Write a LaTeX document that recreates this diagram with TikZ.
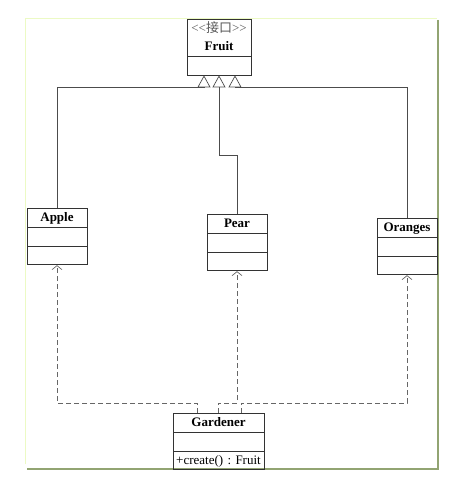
\documentclass[tikz,border=0pt]{standalone}
\usepackage{fontspec}
\setmainfont{Liberation Serif}
\newfontfamily\cjk{Noto Sans CJK SC}
\usetikzlibrary{shapes.multipart,arrows.meta}

\definecolor{framehi}{RGB}{236,250,196}
\definecolor{framelo}{RGB}{146,164,114}
\newcommand{\hs}{\rule[-5pt]{0pt}{18pt}}

\begin{document}
\begin{tikzpicture}[x=1pt,y=-1pt,
	cls/.style={draw=black!80, line width=0.8pt, rectangle split, rectangle split parts=3,
		text width=60pt, inner xsep=0pt, inner ysep=0pt, align=center,
		font=\fontsize{13}{18}\selectfont\frenchspacing},
	gen/.style={draw=black!70, line width=0.7pt, -{Triangle[open,width=13pt,length=12pt]}},
	dep/.style={draw=black!60, line width=0.7pt, dash pattern=on 5pt off 3pt,
		-{Straight Barb[length=4pt,width=10pt]}}]
					\useasboundingbox (0,0) rectangle (454,481);
					% frame
					\draw[framehi, line width=0.8pt] (25,464) -- (25,18) -- (437,18);
					\draw[framelo, line width=1.2pt] (438,20) -- (438,469) -- (27,469);
					
					% classes
					\node[cls, rectangle split parts=2, text width=64pt, anchor=north] (fruit) at (219,19)
						{\hs{\color{black!65}\textless\kern0pt\textless{\cjk 接口}\textgreater\kern0pt\textgreater}\\\hs\textbf{Fruit}
						 \nodepart{two}\hs};
					\node[cls, anchor=north] (apple) at (57,208) {\hs\textbf{Apple} \nodepart{two}\hs \nodepart{three}\hs};
					\node[cls, anchor=north] (pear) at (237,214) {\hs\textbf{Pear} \nodepart{two}\hs \nodepart{three}\hs};
					\node[cls, anchor=north] (oranges) at (407,218) {\hs\textbf{Oranges} \nodepart{two}\hs \nodepart{three}\hs};
					\node[cls, text width=91pt, anchor=north] (gardener) at (218.5,413)
						{\hs\textbf{Gardener} \nodepart{two}\hs \nodepart{three}\hs+create() : Fruit};
					
					% generalisation
					\draw[gen] (apple.north) |- ([xshift=-15pt,yshift=-12pt]fruit.south) -- ([xshift=-15pt]fruit.south);
					\draw[gen] (pear.north) -- ++(0,-59) -| (fruit.south);
					\draw[gen] (oranges.north) |- ([xshift=16pt,yshift=-12pt]fruit.south) -- ([xshift=16pt]fruit.south);
					
					% dependencies
					\draw[dep] ([xshift=-21.5pt]gardener.north) -- ++(0,-10) -| (apple.south);
					\draw[dep] ([xshift=-0.5pt]gardener.north) -- ++(0,-10) -| (pear.south);
					\draw[dep] ([xshift=22.5pt]gardener.north) -- ++(0,-10) -| (oranges.south);
				\end{tikzpicture}
\end{document}
